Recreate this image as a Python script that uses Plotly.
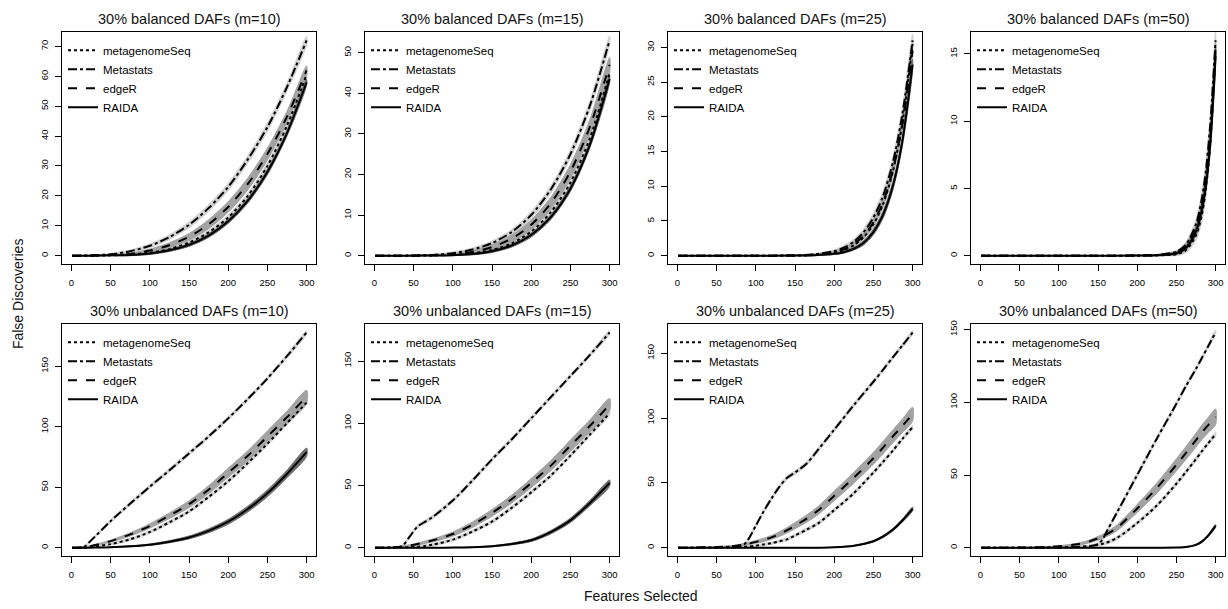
import plotly.graph_objects as go

W, H = 1228, 609
FONT = "Liberation Sans, Arial, Helvetica, sans-serif"

methods = ["metagenomeSeq", "Metastats", "edgeR", "RAIDA"]
dash_styles = ["dot", "dashdot", "dash", "solid"]
band_colors = ["#d2d2d2", "#d2d2d2", "#a3a3a3", "#6e6e6e"]

titles = [
    "30% balanced DAFs (m=10)", "30% balanced DAFs (m=15)",
    "30% balanced DAFs (m=25)", "30% balanced DAFs (m=50)",
    "30% unbalanced DAFs (m=10)", "30% unbalanced DAFs (m=15)",
    "30% unbalanced DAFs (m=25)", "30% unbalanced DAFs (m=50)",
]
x_ticks = [0, 50, 100, 150, 200, 250, 300]
y_ticks_b10 = [0, 10, 20, 30, 40, 50, 60, 70]
y_ticks_b15 = [0, 10, 20, 30, 40, 50]
y_ticks_b25 = [0, 5, 10, 15, 20, 25, 30]
y_ticks_b50 = [0, 5, 10, 15]
y_ticks_unb = [0, 50, 100, 150]

# ---------------- balanced, m=10 ----------------
x_b10 = [1, 25, 50, 75, 100, 125, 150, 175, 200, 225, 250, 275, 300]
mgs_b10 = [0, 0, 0.1, 0.4, 1.0, 2.2, 4.4, 7.8, 12.8, 20, 30, 43.5, 60.5]
mts_b10 = [0, 0.1, 0.5, 1.5, 3.3, 6.2, 10.3, 15.9, 23, 32.2, 43, 56.4, 72]
edr_b10 = [0, 0, 0.2, 0.6, 1.7, 3.5, 6.3, 10.5, 16.3, 24, 34, 46.5, 62]
rai_b10 = [0, 0, 0.1, 0.2, 0.7, 1.8, 3.6, 6.7, 11.5, 18.4, 28, 41, 58]
mgs_b10_w = [0, 0.1, 0.2, 0.3, 0.4, 0.5, 0.6, 0.7, 0.8, 0.9, 1.0, 1.1, 1.2]
mts_b10_w = [0, 0.1, 0.2, 0.4, 0.6, 0.8, 1.0, 1.1, 1.2, 1.3, 1.4, 1.4, 1.4]
edr_b10_w = [0, 0.1, 0.2, 0.3, 0.5, 0.8, 1.1, 1.5, 1.8, 2.0, 2.0, 1.8, 1.5]
rai_b10_w = [0, 0.1, 0.1, 0.2, 0.3, 0.4, 0.5, 0.6, 0.7, 0.8, 0.9, 1.0, 1.0]

# ---------------- balanced, m=15 ----------------
x_b15 = [1, 25, 50, 75, 100, 125, 150, 175, 200, 225, 250, 275, 300]
mgs_b15 = [0, 0, 0, 0.05, 0.2, 0.6, 1.4, 3.0, 5.9, 10.7, 18, 29, 45]
mts_b15 = [0, 0, 0.03, 0.19, 0.6, 1.5, 3.1, 5.8, 10, 16.3, 25, 37, 53]
edr_b15 = [0, 0, 0, 0.1, 0.33, 0.9, 2.1, 4.2, 7.6, 12.9, 20.7, 31.8, 47]
rai_b15 = [0, 0, 0, 0.03, 0.13, 0.4, 1.1, 2.5, 5.1, 9.5, 16.5, 27.4, 43.5]
mgs_b15_w = [0, 0, 0.1, 0.1, 0.2, 0.3, 0.4, 0.5, 0.6, 0.7, 0.8, 0.9, 1.0]
mts_b15_w = [0, 0, 0.1, 0.2, 0.3, 0.4, 0.5, 0.6, 0.8, 0.9, 1.0, 1.1, 1.1]
edr_b15_w = [0, 0, 0.1, 0.1, 0.2, 0.4, 0.6, 0.9, 1.2, 1.5, 1.7, 1.8, 1.8]
rai_b15_w = [0, 0, 0.1, 0.1, 0.1, 0.2, 0.3, 0.4, 0.5, 0.6, 0.7, 0.8, 0.9]

# ---------------- balanced, m=25 ----------------
x_b25 = [1, 100, 150, 175, 200, 212, 225, 237, 250, 262, 275, 287, 300]
mgs_b25 = [0, 0, 0.02, 0.1, 0.43, 0.8, 1.5, 2.6, 4.5, 7.3, 12.2, 19.1, 30.5]
mts_b25 = [0, 0, 0.04, 0.19, 0.66, 1.15, 2.0, 3.3, 5.5, 8.5, 13.5, 20.4, 31]
edr_b25 = [0, 0, 0.03, 0.14, 0.51, 0.9, 1.7, 2.8, 4.8, 7.6, 12.4, 18.9, 29.5]
rai_b25 = [0, 0, 0.01, 0.06, 0.26, 0.5, 1.0, 1.8, 3.4, 5.8, 10.1, 16.5, 27.5]
mgs_b25_w = [0, 0, 0.05, 0.1, 0.15, 0.2, 0.3, 0.4, 0.5, 0.6, 0.7, 0.8, 0.9]
mts_b25_w = [0, 0, 0.05, 0.1, 0.2, 0.3, 0.4, 0.5, 0.6, 0.7, 0.8, 0.9, 0.9]
edr_b25_w = [0, 0, 0.05, 0.1, 0.15, 0.2, 0.3, 0.4, 0.5, 0.6, 0.7, 0.8, 0.9]
rai_b25_w = [0, 0, 0.05, 0.1, 0.1, 0.15, 0.2, 0.3, 0.4, 0.5, 0.6, 0.7, 0.8]

# ---------------- balanced, m=50 ----------------
x_b50 = [1, 150, 200, 225, 250, 262, 275, 282, 287, 293, 300]
mgs_b50 = [0, 0, 0, 0.02, 0.11, 0.4, 1.5, 2.9, 4.7, 8.2, 15.5]
mts_b50 = [0, 0, 0.01, 0.05, 0.29, 0.81, 2.35, 4.1, 6.0, 9.6, 16]
edr_b50 = [0, 0, 0.01, 0.04, 0.23, 0.67, 2.0, 3.6, 5.5, 8.9, 15.2]
rai_b50 = [0, 0, 0.01, 0.03, 0.18, 0.57, 1.8, 3.3, 5.0, 8.2, 14.8]
mgs_b50_w = [0, 0, 0.02, 0.05, 0.1, 0.2, 0.35, 0.5, 0.6, 0.7, 0.8]
mts_b50_w = [0, 0, 0.02, 0.05, 0.1, 0.2, 0.35, 0.5, 0.6, 0.7, 0.8]
edr_b50_w = [0, 0, 0.02, 0.05, 0.1, 0.2, 0.35, 0.5, 0.6, 0.7, 0.8]
rai_b50_w = [0, 0, 0.02, 0.05, 0.1, 0.15, 0.3, 0.4, 0.5, 0.6, 0.7]

# ---------------- unbalanced, m=10 ----------------
x_u10 = [1, 15, 25, 50, 75, 100, 125, 150, 175, 200, 225, 250, 275, 300]
mgs_u10 = [0, 0, 0.5, 3, 7, 13, 21, 30, 42, 55, 70, 86, 103, 120]
mts_u10 = [0, 0.3, 6, 22, 36.5, 50.5, 64, 78, 92, 107, 123, 140, 158.5, 178]
edr_u10 = [0, 0.5, 1.5, 5.5, 11, 18, 26.5, 36, 48, 62, 76, 92, 108, 125]
rai_u10 = [0, 0, 0.1, 0.4, 1.2, 2.5, 5, 8.5, 14, 21.5, 32, 45, 61, 79]
mgs_u10_w = [0, 0.3, 0.5, 0.8, 1.0, 1.1, 1.2, 1.3, 1.4, 1.4, 1.4, 1.4, 1.4, 1.4]
mts_u10_w = [0, 0.5, 0.8, 1.2, 1.5, 1.5, 1.5, 1.5, 1.5, 1.5, 1.5, 1.5, 1.5, 1.5]
edr_u10_w = [0, 0.2, 0.4, 0.8, 1.3, 1.8, 2.3, 2.8, 3.3, 3.8, 4.2, 4.6, 5.0, 5.3]
rai_u10_w = [0, 0, 0.1, 0.2, 0.4, 0.6, 0.9, 1.2, 1.6, 2.0, 2.4, 2.8, 3.1, 3.4]

# ---------------- unbalanced, m=15 ----------------
x_u15 = [1, 25, 35, 45, 55, 65, 75, 100, 125, 150, 175, 200, 225, 250, 275, 300]
mgs_u15 = [0, 0.1, 0.2, 0.4, 0.8, 1.5, 2.5, 6.5, 13, 21, 32, 44.5, 58, 74, 91, 108]
mts_u15 = [0, 0.3, 1, 9, 17, 21, 25, 38, 54, 71, 87, 104, 121, 138, 155, 173]
edr_u15 = [0, 0.3, 1, 1.8, 3, 4.5, 6, 11, 18.5, 28, 39, 52, 66, 82, 98, 115]
rai_u15 = [0, 0, 0, 0, 0, 0, 0, 0.1, 0.4, 1.2, 3, 6, 12.5, 22, 36, 52]
mgs_u15_w = [0, 0.3, 0.4, 0.6, 0.8, 0.9, 1.0, 1.1, 1.2, 1.3, 1.4, 1.4, 1.4, 1.4, 1.4, 1.4]
mts_u15_w = [0, 0.5, 0.8, 1.1, 1.3, 1.4, 1.5, 1.5, 1.5, 1.5, 1.5, 1.5, 1.5, 1.5, 1.5, 1.5]
edr_u15_w = [0, 0.2, 0.4, 0.6, 0.8, 1.0, 1.2, 1.7, 2.2, 2.7, 3.2, 3.7, 4.1, 4.5, 4.8, 5.0]
rai_u15_w = [0, 0, 0, 0, 0, 0, 0, 0.1, 0.2, 0.4, 0.7, 1.0, 1.4, 1.8, 2.2, 2.5]

# ---------------- unbalanced, m=25 ----------------
x_u25 = [1, 50, 75, 85, 90, 100, 110, 120, 130, 140, 150, 165, 180, 200, 225, 250, 262, 275, 287, 300]
mgs_u25 = [0, 0, 0.3, 0.7, 0.9, 1.5, 2.5, 3.5, 5, 6.5, 9.5, 14, 19, 29, 42, 58, 66, 75, 84, 93]
mts_u25 = [0, 0.3, 1.2, 2.5, 6, 17, 28, 38, 47, 54, 58, 65, 76, 91, 110, 128, 137, 147, 156, 166]
edr_u25 = [0, 0.5, 1.5, 2.5, 3, 4.5, 6, 8, 10.5, 13.5, 17, 22.5, 29, 40, 54, 69, 77, 86, 94, 103]
rai_u25 = [0, 0, 0, 0, 0, 0, 0, 0, 0, 0, 0, 0, 0.05, 0.3, 1.5, 5, 8.5, 14, 21, 30]
mgs_u25_w = [0, 0.3, 0.5, 0.6, 0.6, 0.7, 0.8, 0.9, 1.0, 1.0, 1.1, 1.2, 1.3, 1.4, 1.4, 1.4, 1.4, 1.4, 1.4, 1.4]
mts_u25_w = [0, 0.5, 0.8, 1.0, 1.1, 1.3, 1.4, 1.5, 1.5, 1.5, 1.5, 1.5, 1.5, 1.5, 1.5, 1.5, 1.5, 1.5, 1.5, 1.5]
edr_u25_w = [0, 0.3, 0.6, 0.8, 0.9, 1.1, 1.3, 1.5, 1.8, 2.1, 2.4, 2.8, 3.2, 3.7, 4.2, 4.6, 4.8, 5.0, 5.2, 5.4]
rai_u25_w = [0, 0, 0, 0, 0, 0, 0, 0, 0, 0, 0, 0, 0, 0.1, 0.3, 0.6, 0.8, 1.0, 1.2, 1.4]

# ---------------- unbalanced, m=50 ----------------
x_u50 = [1, 50, 100, 125, 140, 150, 155, 160, 175, 200, 225, 250, 262, 275, 282, 290, 300]
mgs_u50 = [0, 0, 0.2, 0.6, 1.2, 2, 2.6, 3.3, 7, 17, 29, 44, 52, 61, 66, 71.5, 78]
mts_u50 = [0, 0, 0.2, 0.5, 1, 2.5, 5, 10, 25, 50, 75, 99, 111, 123, 130, 138, 148]
edr_u50 = [0, 0.1, 1, 2.5, 4.5, 6.5, 7.5, 9, 14, 27, 41, 57, 65, 74, 79, 84, 90]
rai_u50 = [0, 0, 0, 0, 0, 0, 0, 0, 0, 0, 0, 0.1, 0.5, 2, 4, 8, 15]
mgs_u50_w = [0, 0.2, 0.4, 0.6, 0.7, 0.8, 0.9, 1.0, 1.1, 1.2, 1.3, 1.4, 1.4, 1.4, 1.4, 1.4, 1.4]
mts_u50_w = [0, 0.2, 0.4, 0.6, 0.8, 1.0, 1.1, 1.2, 1.4, 1.5, 1.5, 1.5, 1.5, 1.5, 1.5, 1.5, 1.5]
edr_u50_w = [0, 0.1, 0.4, 0.7, 1.0, 1.3, 1.4, 1.6, 2.0, 2.8, 3.5, 4.2, 4.5, 4.8, 5.0, 5.2, 5.4]
rai_u50_w = [0, 0, 0, 0, 0, 0, 0, 0, 0, 0, 0, 0.05, 0.2, 0.4, 0.6, 0.8, 1.0]

panels = [
    (x_b10, [mgs_b10, mts_b10, edr_b10, rai_b10], [mgs_b10_w, mts_b10_w, edr_b10_w, rai_b10_w], y_ticks_b10),
    (x_b15, [mgs_b15, mts_b15, edr_b15, rai_b15], [mgs_b15_w, mts_b15_w, edr_b15_w, rai_b15_w], y_ticks_b15),
    (x_b25, [mgs_b25, mts_b25, edr_b25, rai_b25], [mgs_b25_w, mts_b25_w, edr_b25_w, rai_b25_w], y_ticks_b25),
    (x_b50, [mgs_b50, mts_b50, edr_b50, rai_b50], [mgs_b50_w, mts_b50_w, edr_b50_w, rai_b50_w], y_ticks_b50),
    (x_u10, [mgs_u10, mts_u10, edr_u10, rai_u10], [mgs_u10_w, mts_u10_w, edr_u10_w, rai_u10_w], y_ticks_unb),
    (x_u15, [mgs_u15, mts_u15, edr_u15, rai_u15], [mgs_u15_w, mts_u15_w, edr_u15_w, rai_u15_w], y_ticks_unb),
    (x_u25, [mgs_u25, mts_u25, edr_u25, rai_u25], [mgs_u25_w, mts_u25_w, edr_u25_w, rai_u25_w], y_ticks_unb),
    (x_u50, [mgs_u50, mts_u50, edr_u50, rai_u50], [mgs_u50_w, mts_u50_w, edr_u50_w, rai_u50_w], y_ticks_unb),
]

# panel boxes in pixels
col_left = [62, 365, 668, 971]
box_w = 254
row_top = [28, 322]
box_h = 234

fig = go.Figure()
layout = dict(
    width=W, height=H, autosize=False,
    margin=dict(l=0, r=0, t=0, b=0),
    paper_bgcolor="white", plot_bgcolor="white",
    font=dict(family=FONT, color="black"),
    annotations=[], showlegend=True,
)

for i, (xs, means, widths, yticks) in enumerate(panels):
    r, c = divmod(i, 4)
    n = i + 1
    xa = "x" if n == 1 else f"x{n}"
    ya = "y" if n == 1 else f"y{n}"
    leg = "legend" if n == 1 else f"legend{n}"
    # bands
    for k in range(4):
        up = [m + w for m, w in zip(means[k], widths[k])]
        lo = [max(m - w, 0) for m, w in zip(means[k], widths[k])]
        fig.add_trace(go.Scatter(
            x=list(xs) + list(xs)[::-1], y=up + lo[::-1],
            mode="lines", fill="toself", fillcolor=band_colors[k],
            line=dict(width=1, color=band_colors[k], shape="spline", smoothing=0.8),
            hoverinfo="skip", showlegend=False, xaxis=xa, yaxis=ya))
    # mean lines
    for k in range(4):
        fig.add_trace(go.Scatter(
            x=xs, y=means[k], mode="lines", name=methods[k],
            line=dict(color="black", width=2, dash=dash_styles[k], shape="spline", smoothing=0.8),
            legend=leg, showlegend=True, xaxis=xa, yaxis=ya))

    ymax = max(max(m) for m in means)
    x0 = col_left[c] / W
    x1 = (col_left[c] + box_w) / W
    y1 = 1 - row_top[r] / H
    y0 = 1 - (row_top[r] + box_h) / H
    axis_common = dict(showline=True, mirror=True, linecolor="black", linewidth=1,
                       ticks="outside", ticklen=6, tickwidth=1, tickcolor="black",
                       showgrid=False, zeroline=False,
                       tickfont=dict(family=FONT, size=9.5, color="black"),
                       ticklabelstandoff=3)
    layout["xaxis" if n == 1 else f"xaxis{n}"] = dict(
        domain=[x0, x1], anchor=ya, range=[-12, 312],
        tickmode="array", tickvals=x_ticks, ticktext=[str(v) for v in x_ticks],
        **axis_common)
    layout["yaxis" if n == 1 else f"yaxis{n}"] = dict(
        domain=[y0, y1], anchor=xa, range=[-0.04 * ymax, 1.04 * ymax],
        tickmode="array", tickvals=yticks, ticktext=[str(v) for v in yticks],
        tickangle=-90, **axis_common)
    layout[leg] = dict(
        x=(col_left[c] + 1) / W, y=1 - (row_top[r] + 4) / H,
        xanchor="left", yanchor="top", bgcolor="rgba(0,0,0,0)",
        borderwidth=0, font=dict(family=FONT, size=11.5, color="black"),
        itemwidth=30, tracegroupgap=0)
    layout["annotations"].append(dict(
        text=titles[i], x=(col_left[c] + box_w / 2) / W,
        y=1 - (row_top[r] - 13) / H, xref="paper", yref="paper",
        xanchor="center", yanchor="middle", showarrow=False,
        font=dict(family=FONT, size=14.5, color="#111111", weight="normal")))

layout["annotations"].append(dict(
    text="False Discoveries", x=18 / W, y=1 - 292 / H, xref="paper", yref="paper",
    textangle=-90, xanchor="center", yanchor="middle", showarrow=False,
    font=dict(family=FONT, size=14, color="#111111", weight="normal")))
layout["annotations"].append(dict(
    text="Features Selected", x=641 / W, y=1 - 596 / H, xref="paper", yref="paper",
    xanchor="center", yanchor="middle", showarrow=False,
    font=dict(family=FONT, size=14, color="#111111", weight="normal")))

fig.update_layout(**layout)
fig.write_html("out.html")
